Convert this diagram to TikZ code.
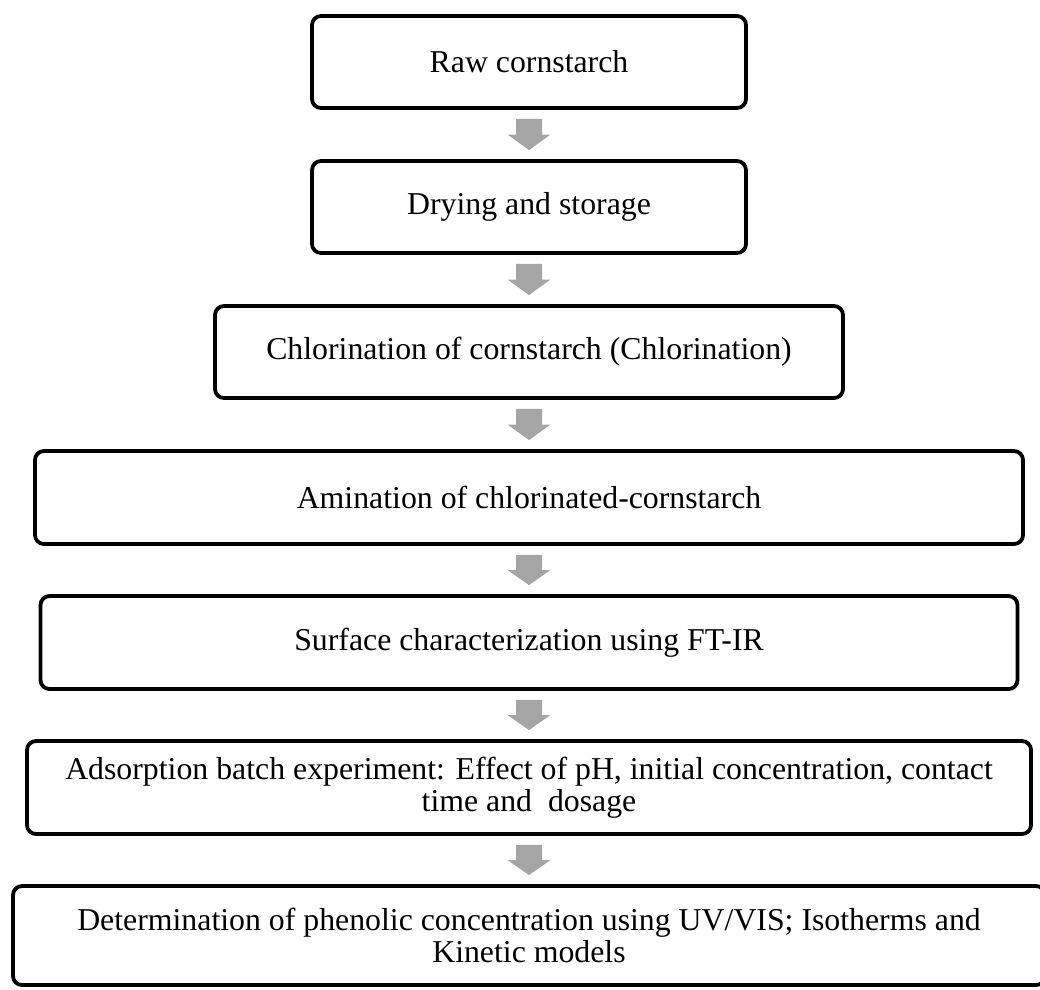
\documentclass[tikz,border=0pt]{standalone}
\usepackage{fontspec}
\setmainfont{Liberation Serif}
\usetikzlibrary{calc}
\definecolor{arrowgray}{HTML}{A5A5A5}
\tikzset{
  stepbox/.style={draw=black, line width=3.8pt, rounded corners=9pt, fill=white,
    align=center, inner sep=0pt, font=\fontsize{31.8}{32.5}\selectfont},
}
\newcommand{\blockarrow}[2]{%
  \coordinate (ta) at ($(#1.south)+(0,-9pt)$);
  \coordinate (tt) at ($(#2.north)+(0,9pt)$);
  \coordinate (tm) at ($(ta)!0.5!(tt)$);
  \fill[arrowgray] ($(ta)+(-13pt,0)$) -- ($(ta)+(13pt,0)$) -- ($(tm)+(13pt,0)$)
    -- ($(tm)+(21.5pt,0)$) -- (tt) -- ($(tm)+(-21.5pt,0)$) -- ($(tm)+(-13pt,0)$) -- cycle;
}
\begin{document}
\begin{tikzpicture}[x=1pt, y=-1pt]
\useasboundingbox (0,0) rectangle (1040,989);
\node[stepbox, minimum width=434pt, minimum height=92pt] (b1) at (529,62) {Raw cornstarch};
\node[stepbox, minimum width=434pt, minimum height=92pt] (b2) at (529,207) {Drying and storage};
\node[stepbox, minimum width=628pt, minimum height=92pt] (b3) at (529,352) {Chlorination of cornstarch (Chlorination)};
\node[stepbox, minimum width=988pt, minimum height=93pt] (b4) at (529,497.5) {Amination of chlorinated-cornstarch};
\node[stepbox, minimum width=977pt, minimum height=93pt] (b5) at (529,642.5) {Surface characterization using FT-IR};
\node[stepbox, minimum width=1004pt, minimum height=93pt] (b6) at (529,787.5) {Adsorption batch experiment: Effect of pH, initial concentration, contact\\ time and\ \ dosage};
\node[stepbox, minimum width=1032pt, minimum height=99pt] (b7) at (529,935.5) {Determination of phenolic concentration using UV/VIS; Isotherms and\\ Kinetic models};
\blockarrow{b1}{b2}
\blockarrow{b2}{b3}
\blockarrow{b3}{b4}
\blockarrow{b4}{b5}
\blockarrow{b5}{b6}
\blockarrow{b6}{b7}
\end{tikzpicture}
\end{document}
